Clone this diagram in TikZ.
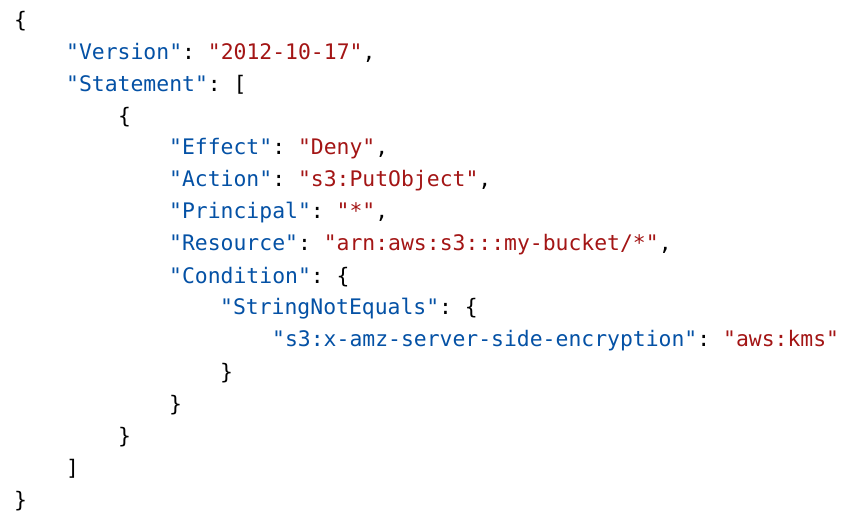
\documentclass[tikz,border=0pt]{standalone}
\usepackage{fontspec}
\setmonofont{DejaVu Sans Mono}
\definecolor{keyblue}{HTML}{0451A5}
\definecolor{strred}{HTML}{A31515}
\newcommand\jkey[1]{\textcolor{keyblue}{"#1"}}
\newcommand\jstr[1]{\textcolor{strred}{"#1"}}
\begin{document}
\begin{tikzpicture}[x=1pt,y=1pt]
  \tikzstyle{cline} = [anchor=west, inner sep=0pt, font=\ttfamily\fontsize{21.4}{24}\selectfont]
  \useasboundingbox (0,0) rectangle (862,531);
  \node[cline] (l1) at (14,510) {\{};
  \node[cline] (l2) at (66,478) {\jkey{Version}: \jstr{2012-10-17},};
  \node[cline] (l3) at (66,446) {\jkey{Statement}: [};
  \node[cline] (l4) at (118,414) {\{};
  \node[cline] (l5) at (169,382) {\jkey{Effect}: \jstr{Deny},};
  \node[cline] (l6) at (169,350) {\jkey{Action}: \jstr{s3:PutObject},};
  \node[cline] (l7) at (169,318) {\jkey{Principal}: \jstr{*},};
  \node[cline] (l8) at (169,286) {\jkey{Resource}: \jstr{arn:aws:s3:::my-bucket/*},};
  \node[cline] (l9) at (169,254) {\jkey{Condition}: \{};
  \node[cline] (l10) at (220,222) {\jkey{StringNotEquals}: \{};
  \node[cline] (l11) at (272,190) {\jkey{s3:x-amz-server-side-encryption}: \jstr{aws:kms}};
  \node[cline] (l12) at (220,158) {\}};
  \node[cline] (l13) at (169,126) {\}};
  \node[cline] (l14) at (118,94) {\}};
  \node[cline] (l15) at (66,62) {]};
  \node[cline] (l16) at (14,30) {\}};
\end{tikzpicture}
\end{document}
